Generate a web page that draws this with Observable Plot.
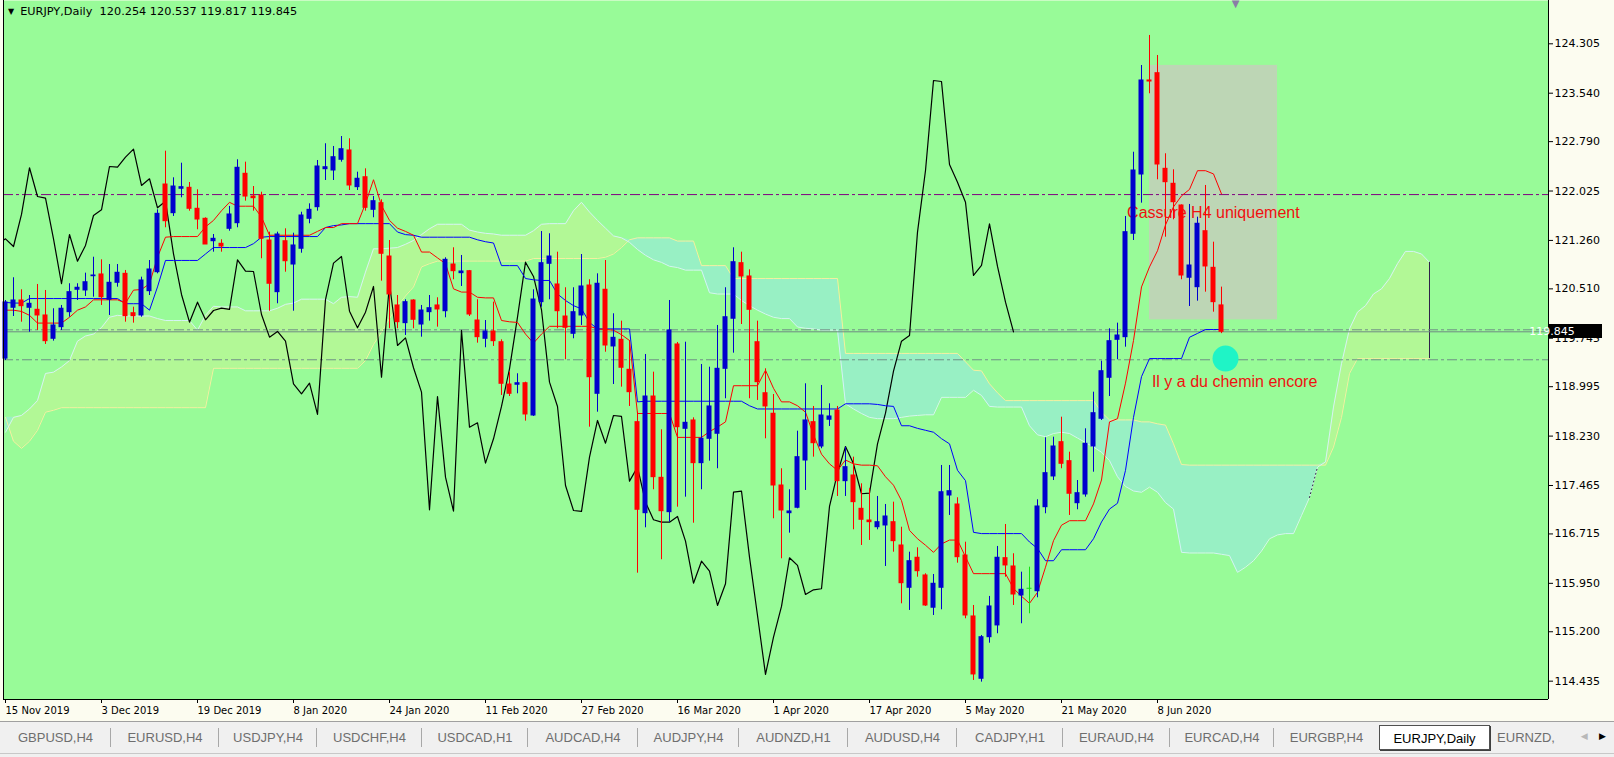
<!DOCTYPE html>
<html><head><meta charset="utf-8">
<script src="https://cdn.jsdelivr.net/npm/d3@7"></script>
<script src="https://cdn.jsdelivr.net/npm/@observablehq/plot@0.6"></script>
<style>
body{margin:0;background:#fcfcf0;width:1614px;height:757px;overflow:hidden;position:relative}
#chart{position:absolute;left:0;top:0;width:1614px;height:722px}
#header{position:absolute;left:8px;top:5px;font-family:"DejaVu Sans",sans-serif;font-size:11.3px;line-height:13px;color:#000;white-space:pre}
#header .tri{font-size:8px;vertical-align:1px;margin-right:6px}
#tabs{position:absolute;left:0;top:721px;width:1614px;height:36px;background:#f0f0f0;border-top:1px solid #a0a0a0;display:flex;font-family:"Liberation Sans",Arial,sans-serif;font-size:13px;box-sizing:border-box}
.tab{position:relative;height:25px;margin-top:3px;line-height:25px;text-align:center;color:#6e6e6e;box-sizing:border-box;white-space:nowrap;overflow:hidden}
.tab.sep::after{content:"";position:absolute;right:0;top:3px;bottom:3px;border-right:1px solid #a8a8a8}
.tab.active{background:#fff;color:#000;border:1px solid #505050;box-shadow:1px 1px 0 #404040}
#arrows{position:absolute;right:8px;top:731px;font-size:9px;font-family:"DejaVu Sans",sans-serif}
#bottomline{position:absolute;left:0;top:753px;width:1614px;height:1px;background:#c8c8c8}
</style></head>
<body><div id="chart"></div><div id="header"></div><div id="tabs"></div><div id="arrows"><span style="color:#b8b8b8">&#9664;</span>&nbsp;&nbsp;&nbsp;&nbsp;<span style="color:#000">&#9654;</span></div><div id="bottomline"></div>
<script>
const symbol = "EURJPY", period = "Daily";
const dateLabels = ["15 Nov 2019","3 Dec 2019","19 Dec 2019","8 Jan 2020","24 Jan 2020","11 Feb 2020","27 Feb 2020","16 Mar 2020","1 Apr 2020","17 Apr 2020","5 May 2020","21 May 2020","8 Jun 2020"];
const barsPerLabel = 12;
const priceTicks = [124.305,123.540,122.790,122.025,121.260,120.510,119.745,118.995,118.230,117.465,116.715,115.950,115.200,114.435];

const open = [119.43,120.217,120.33,120.217,120.186,120.098,119.737,119.917,120.149,120.496,
120.485,120.706,120.733,120.341,120.604,120.743,120.133,120.098,120.474,120.768,
122.126,121.682,122.06,122.075,121.75,121.595,121.248,121.208,121.44,121.527,
122.292,121.94,121.956,121.259,120.459,121.248,120.887,121.131,121.595,121.775,
122.363,122.343,122.509,122.653,122.085,122.239,121.734,121.837,121.011,120.253,
119.979,120.33,119.958,120.149,120.253,120.164,120.887,120.753,120.784,120.02,
119.737,119.85,119.684,119.029,119.025,119.049,118.549,120.304,120.898,120.578,
120.082,119.814,120.098,120.562,118.885,120.496,119.618,119.721,119.257,118.446,
117.036,118.843,117.584,117.052,119.649,118.343,118.472,117.811,118.188,118.266,
119.272,120.047,120.908,120.702,119.684,118.894,118.576,117.465,117.036,117.12,
117.852,118.446,118.069,118.483,118.627,117.532,117.62,117.104,116.923,116.819,
116.846,116.897,116.536,115.881,116.346,116.072,115.572,115.881,117.31,117.171,
116.381,115.437,114.472,115.116,115.298,116.34,116.211,115.762,115.866,115.828,
117.129,117.605,118.136,117.842,117.191,117.326,118.069,118.498,119.133,119.721,
119.762,121.363,122.281,123.737,123.85,122.369,122.137,121.801,120.682,120.536,
121.403,120.836,120.254];
const high = [120.33,120.682,120.496,120.407,120.578,120.485,120.202,120.253,120.589,120.589,
120.753,121.0,120.96,120.887,120.887,120.795,120.226,120.691,120.949,121.734,
122.642,122.23,122.456,122.157,122.044,121.61,121.352,121.27,121.786,122.509,
122.472,122.095,122.007,121.388,121.388,121.44,121.372,121.697,121.827,122.498,
122.757,122.715,122.869,122.834,122.317,122.369,121.94,121.889,121.259,120.407,
120.341,120.341,120.253,120.407,120.372,120.991,121.146,121.027,120.795,120.341,
120.02,120.304,119.721,119.22,119.195,119.065,120.496,121.398,121.363,121.078,
120.527,120.527,121.042,120.651,120.743,120.949,120.124,120.01,119.711,118.6,
119.494,119.22,118.328,120.33,119.68,119.684,118.513,119.339,119.297,119.943,
120.527,121.146,121.078,120.805,120.01,119.272,118.874,117.724,117.399,118.306,
119.04,118.689,119.014,118.73,118.689,118.058,117.904,117.491,117.414,117.295,
117.171,117.207,116.819,116.432,116.5,116.098,116.087,117.775,117.775,117.275,
116.587,115.607,115.142,115.747,116.521,116.861,116.408,116.123,116.2,117.244,
118.204,118.213,118.523,117.981,117.542,118.343,118.91,119.39,119.892,119.979,
121.631,122.626,123.969,124.434,124.124,122.602,122.354,121.81,121.817,121.62,
122.111,121.233,120.537];
const low = [119.40,120.082,119.994,119.839,119.866,119.649,119.70,119.866,120.071,120.33,
120.392,120.381,120.253,120.098,120.536,119.994,119.979,120.071,120.407,120.743,
121.456,121.631,121.92,121.713,121.425,121.197,121.078,121.078,121.403,121.456,
121.868,121.713,120.976,120.164,120.279,120.768,120.164,121.062,121.518,121.713,
122.188,122.188,122.472,122.033,122.033,121.713,121.611,120.629,119.892,119.892,
119.788,119.892,119.762,120.01,119.917,120.062,120.651,120.547,120.082,119.669,
119.598,119.618,118.859,118.843,118.885,118.461,118.534,120.226,120.341,119.892,
119.412,119.737,119.943,118.368,118.6,119.529,119.029,118.988,118.689,116.107,
116.81,117.399,116.315,116.897,117.129,117.284,116.881,117.399,117.842,117.724,
118.808,119.514,119.958,118.808,118.782,118.188,116.95,116.33,116.727,117.104,
117.388,117.904,118.034,118.379,117.295,117.295,116.779,116.536,116.614,116.779,
116.211,116.432,115.633,115.53,116.045,115.592,115.452,115.54,117.001,116.262,
115.401,114.446,114.42,115.023,115.169,116.045,115.607,115.324,115.478,115.726,
117.027,117.542,117.724,117.001,117.089,117.284,117.671,118.472,118.843,119.412,
119.607,121.259,121.837,123.531,122.199,121.31,121.58,120.651,120.237,120.319,
120.459,120.149,119.817];
const close = [120.30,120.33,120.242,120.279,120.098,119.70,119.943,120.202,120.459,120.527,
120.613,120.717,120.381,120.604,120.759,120.087,120.087,120.64,120.81,121.672,
121.558,122.095,122.085,121.75,121.584,121.197,121.285,121.166,121.662,122.385,
121.94,121.914,121.285,120.589,121.352,120.938,121.182,121.646,121.734,122.405,
122.394,122.549,122.673,122.111,122.215,121.765,121.868,121.053,120.423,119.994,
120.304,120.031,120.175,120.211,120.191,120.96,120.784,120.779,120.113,119.762,
119.85,119.70,119.04,118.885,119.049,118.565,120.345,120.908,121.011,120.164,
119.907,120.149,120.547,119.142,120.589,119.633,119.752,119.288,118.91,117.089,
118.843,117.594,117.067,119.866,118.368,118.436,117.811,118.188,118.689,119.272,
120.071,120.923,120.702,120.186,119.065,118.689,117.465,117.078,117.063,117.904,
118.472,118.12,118.549,118.534,117.532,117.749,117.207,116.934,116.897,116.897,
116.985,116.603,115.952,116.293,116.138,115.607,115.943,117.361,117.377,116.355,
115.452,114.539,115.116,115.592,116.346,116.227,115.777,115.85,115.866,117.14,
117.656,118.069,117.801,117.337,117.346,118.111,118.585,119.235,119.70,119.788,
121.388,122.343,123.737,123.721,122.436,122.162,121.852,120.717,120.872,121.518,
120.857,120.304,119.845];

const tenkan = [120.18,120.18,120.16,120.10,119.98,119.98,119.98,119.98,120.07,120.18,
120.23,120.34,120.34,120.34,120.34,120.29,120.49,120.50,120.59,121.00,
121.31,121.32,121.32,121.32,121.32,121.47,121.57,121.72,121.85,121.79,
121.79,121.79,121.62,121.34,121.34,121.34,121.34,121.34,121.34,121.40,
121.46,121.46,121.52,121.52,121.52,121.83,122.20,121.80,121.57,121.45,
121.40,121.34,121.08,121.08,120.99,120.90,120.51,120.46,120.46,120.38,
120.37,120.37,120.02,120.00,119.99,119.81,119.67,119.81,119.93,119.93,
119.93,119.93,119.93,119.93,119.89,119.88,119.87,119.80,119.71,118.58,
118.58,118.58,118.58,118.58,118.21,118.21,118.21,118.21,118.30,118.37,
118.45,119.01,119.01,119.01,119.01,119.25,118.97,118.76,118.76,118.70,
118.60,118.25,117.95,117.80,117.70,117.86,117.80,117.78,117.78,117.77,
117.60,117.47,117.23,116.77,116.64,116.54,116.43,116.56,116.62,116.62,
116.36,116.10,116.10,116.10,116.10,116.10,115.87,115.75,115.64,115.81,
116.20,116.61,116.85,116.92,116.92,116.92,117.18,117.55,118.45,118.50,
119.05,119.71,120.54,120.85,121.10,121.50,121.78,121.95,122.05,122.34,
122.34,122.29,121.98];
const kijun = [120.30,120.29,120.29,120.36,120.36,120.36,120.36,120.36,120.36,120.36,
120.36,120.36,120.36,120.36,120.36,120.28,120.28,120.28,120.18,120.54,
120.95,120.95,120.95,120.95,120.95,121.05,121.15,121.15,121.15,121.15,
121.15,121.21,121.31,121.32,121.32,121.32,121.32,121.32,121.32,121.32,
121.46,121.49,121.50,121.52,121.52,121.52,121.52,121.52,121.52,121.39,
121.35,121.34,121.31,121.31,121.31,121.31,121.31,121.31,121.31,121.27,
121.24,121.22,120.87,120.87,120.87,120.67,120.65,120.64,120.64,120.43,
120.33,120.25,120.20,119.99,119.89,119.89,119.89,119.89,119.89,118.76,
118.77,118.77,118.77,118.77,118.77,118.77,118.77,118.77,118.77,118.77,
118.77,118.77,118.77,118.70,118.65,118.65,118.65,118.65,118.65,118.65,
118.65,118.65,118.65,118.65,118.65,118.73,118.73,118.73,118.73,118.72,
118.70,118.69,118.39,118.39,118.35,118.32,118.29,118.19,118.11,117.70,
117.54,116.74,116.72,116.72,116.72,116.72,116.72,116.72,116.59,116.49,
116.30,116.30,116.47,116.47,116.47,116.47,116.64,116.90,117.10,117.19,
117.70,118.52,119.15,119.43,119.43,119.43,119.43,119.43,119.76,119.82,
119.88,119.88,119.88];
const spanA = [118.29,118.52,118.55,118.65,118.78,119.20,119.22,119.30,119.40,119.70,
119.78,119.81,119.91,120.07,120.10,120.09,120.09,120.09,120.09,120.05,
120.02,120.02,120.02,120.02,119.87,120.10,120.24,120.23,120.23,120.23,
120.17,120.17,120.17,120.17,120.21,120.27,120.29,120.35,120.35,120.35,
120.35,120.28,120.38,120.39,120.38,120.77,121.13,121.13,121.14,121.15,
121.20,121.26,121.35,121.44,121.51,121.51,121.51,121.51,121.42,121.39,
121.37,121.36,121.34,121.34,121.34,121.34,121.41,121.51,121.52,121.52,
121.52,121.72,121.85,121.70,121.57,121.45,121.33,121.30,121.23,121.12,
121.03,120.96,120.92,120.86,120.84,120.80,120.80,120.80,120.45,120.43,
120.43,120.43,120.33,120.25,120.18,120.12,120.07,120.05,120.05,119.92,
119.90,119.89,119.87,119.87,119.87,118.73,118.65,118.58,118.52,118.50,
118.50,118.50,118.52,118.54,118.55,118.56,118.56,118.83,118.83,118.83,
118.83,118.94,118.86,118.69,118.68,118.68,118.68,118.68,118.39,118.25,
118.22,118.27,118.29,118.27,118.20,118.13,118.06,117.98,117.85,117.60,
117.45,117.38,117.36,117.44,117.36,117.20,117.10,116.43,116.42,116.42,
116.42,116.42,116.40,116.38,116.12,116.20,116.30,116.45,116.64,116.70,
116.72,116.72,117.00,117.28,117.75,117.83,118.68,119.35,119.89,120.15,
120.25,120.43,120.51,120.67,120.90,121.09,121.09,121.05,120.92];
const spanB = [118.52,118.15,118.04,118.15,118.32,118.60,118.63,118.67,118.67,118.67,
118.67,118.67,118.67,118.67,118.67,118.67,118.67,118.67,118.67,118.67,
118.67,118.67,118.67,118.67,118.67,118.67,119.28,119.28,119.28,119.28,
119.28,119.28,119.28,119.28,119.28,119.28,119.28,119.28,119.28,119.28,
119.28,119.28,119.28,119.28,119.28,119.40,119.65,119.84,120.05,120.25,
120.40,120.54,120.85,120.90,120.94,120.94,120.94,120.94,120.94,120.94,
120.94,120.94,120.94,120.94,120.94,120.94,120.98,120.98,120.98,120.98,
120.98,120.98,120.98,120.98,120.98,121.00,121.05,121.15,121.27,121.30,
121.30,121.30,121.30,121.30,121.25,121.25,121.25,120.87,120.87,120.87,
120.87,120.67,120.67,120.67,120.67,120.67,120.67,120.67,120.67,120.67,
120.67,120.67,120.67,120.67,120.67,119.51,119.51,119.51,119.51,119.51,
119.51,119.51,119.51,119.51,119.51,119.51,119.51,119.51,119.51,119.51,
119.38,119.25,119.24,119.04,118.90,118.78,118.78,118.78,118.78,118.78,
118.78,118.78,118.78,118.78,118.78,118.78,118.78,118.60,118.48,118.48,
118.48,118.48,118.45,118.45,118.42,118.40,118.11,117.79,117.78,117.78,
117.78,117.78,117.78,117.78,117.78,117.78,117.78,117.78,117.78,117.78,
117.78,117.78,117.78,117.78,117.78,117.78,118.06,118.52,119.20,119.43,
119.43,119.43,119.43,119.43,119.43,119.43,119.43,119.43,119.43];
const chikouShift = 26;

const levelLines = [121.97, 119.876, 119.412];
const levelColors = ["#800080", "#6f8f86", "#6f8f86"];
const highlightBox = [{bar1: 143, bar2: 159, top: 123.97, bottom: 120.03}];
const notes = [{text: "Cassure H4 uniquement", bar: 140.2, price: 121.60},
               {text: "Il y a du chemin encore", bar: 143.3, price: 118.99}];
const marker = [{bar: 152.5, price: 119.43}];
const shiftBar = 153.75;
const dottedSpan = [163, 164];

const tabNames = ["GBPUSD,H4","EURUSD,H4","USDJPY,H4","USDCHF,H4","USDCAD,H1","AUDCAD,H4","AUDJPY,H4","AUDNZD,H1","AUDUSD,H4","CADJPY,H1","EURAUD,H4","EURCAD,H4","EURGBP,H4","EURJPY,Daily","EURNZD,"];
const activeTab = 13;
const tabWidths = [111,108,98,105,106,110,101,109,109,106,107,104,105,111,72];

// ---- build ----
const n = close.length - 1;
const candles = open.map((o, i) => ({i, open: o, high: high[i], low: low[i], close: close[i]}));
const bull = "#0000cd", bear = "#ff0000", doji = "#10e010";
const col = d => d.close > d.open ? bull : d.close < d.open ? bear : doji;
const cloud = spanA.map((a, i) => ({i, a, b: spanB[i]}));
const chikou = close.map((c, i) => ({x: i - chikouShift, y: c})).filter(d => d.x >= -1);
const xDomain = [-0.25, 192.875];
const yDomain = [114.151, 124.9755];

const chart = Plot.plot({
  width: 1614, height: 722,
  marginLeft: 3, marginRight: 66, marginTop: 0, marginBottom: 23,
  x: {type: "linear", domain: xDomain, axis: null},
  y: {type: "linear", domain: yDomain, axis: null},
  style: {background: "#fcfcf0", fontFamily: "DejaVu Sans, sans-serif", color: "black", overflow: "visible"},
  marks: [
    Plot.frame({fill: "#98fb98", stroke: null}),
    Plot.rect(highlightBox, {x1: "bar1", x2: "bar2", y1: "bottom", y2: "top", fill: "#bdd6b5"}),
    Plot.areaY(cloud, {x: "i", y1: "b", y2: d => Math.max(d.a, d.b), fill: "#b2f896"}),
    Plot.areaY(cloud, {x: "i", y1: "a", y2: d => Math.max(d.a, d.b), fill: "#98f0c4"}),
    Plot.line(cloud, {x: "i", y: "b", stroke: "#f4f0a0", strokeWidth: 1}),
    Plot.line(cloud, {x: "i", y: "a", stroke: "#d4f4f4", strokeWidth: 1}),
    Plot.line(cloud.slice(dottedSpan[0], dottedSpan[1] + 1), {x: "i", y: "a", stroke: "#30204a", strokeWidth: 1, strokeDasharray: "1,3"}),
    Plot.ruleX([cloud[cloud.length - 1]], {x: "i", y1: "a", y2: "b", stroke: "#30204a", strokeWidth: 1}),
    Plot.ruleY(levelLines, {y: d => d, stroke: (d, k) => levelColors[k], strokeDasharray: "10,3,3,3", strokeWidth: 1}),
    Plot.ruleY([close[n]], {stroke: "#708a84", strokeWidth: 1}),
    Plot.text(notes, {x: "bar", y: "price", text: "text", textAnchor: "start", lineAnchor: "bottom", fill: "#f01010", fontSize: 16, fontFamily: "Liberation Sans, Arial, sans-serif"}),
    Plot.dot(marker, {x: "bar", y: "price", r: 13, fill: "#1ff4c6", stroke: null}),
    Plot.line(chikou, {x: "x", y: "y", stroke: "black", strokeWidth: 1.2, clip: true}),
    Plot.line(kijun, {x: (d, i) => i, y: d => d, stroke: "#0000ff", strokeWidth: 1}),
    Plot.line(tenkan, {x: (d, i) => i, y: d => d, stroke: "#ff0000", strokeWidth: 1}),
    Plot.ruleX(candles, {x: "i", y1: "low", y2: "high", stroke: col, strokeWidth: 1}),
    Plot.rect(candles, {x1: d => d.i - 2.5 / 8, x2: d => d.i + 2.5 / 8, y1: "open", y2: "close", fill: col, insetTop: -0.5, insetBottom: -0.5}),
    Plot.ruleX([xDomain[0], xDomain[1]], {stroke: "black"}),
    Plot.ruleY([yDomain[0]], {stroke: "black"}),
    Plot.axisY(priceTicks, {anchor: "right", tickSize: 4, tickPadding: 2, tickFormat: d3.format(".3f"), fontSize: 11, label: null}),
    Plot.axisX(dateLabels.map((_, k) => k * barsPerLabel), {anchor: "bottom", tickSize: 4, tickPadding: 3, textAnchor: "start", tickFormat: v => dateLabels[v / barsPerLabel], fontSize: 10, label: null}),
    Plot.text(["\u25bc"], {x: shiftBar, frameAnchor: "top", lineAnchor: "top", dy: -1, fontSize: 10, fill: "#8a7ca6"})
  ]
});
document.getElementById("chart").appendChild(chart);

// header line (symbol, period and last bar's OHLC)
const hdr = d3.select("#header");
hdr.append("span").attr("class", "tri").text("\u25bc");
hdr.append("span").text(`${symbol},${period}  ${[open[n], high[n], low[n], close[n]].map(v => v.toFixed(3)).join(" ")}`);

// last price tag on the price axis
const yScale = chart.scale("y");
const yy = Math.round(yScale.apply(close[n]));
const svg = d3.select(chart);
svg.append("rect").attr("x", 1549).attr("y", yy - 7).attr("width", 53).attr("height", 14).attr("fill", "black");
svg.append("text").attr("x", 1552).attr("y", yy + 4).attr("fill", "white").attr("font-size", 11).attr("font-family", "DejaVu Sans, sans-serif").text(close[n].toFixed(3));

// tab bar
const tabs = d3.select("#tabs");
tabNames.forEach((name, k) => {
  tabs.append("div")
    .attr("class", "tab" + (k === activeTab ? " active" : (k < tabNames.length - 1 && k !== activeTab - 1 ? " sep" : "")))
    .style("width", tabWidths[k] + "px")
    .text(name);
});
</script>
</body></html>
